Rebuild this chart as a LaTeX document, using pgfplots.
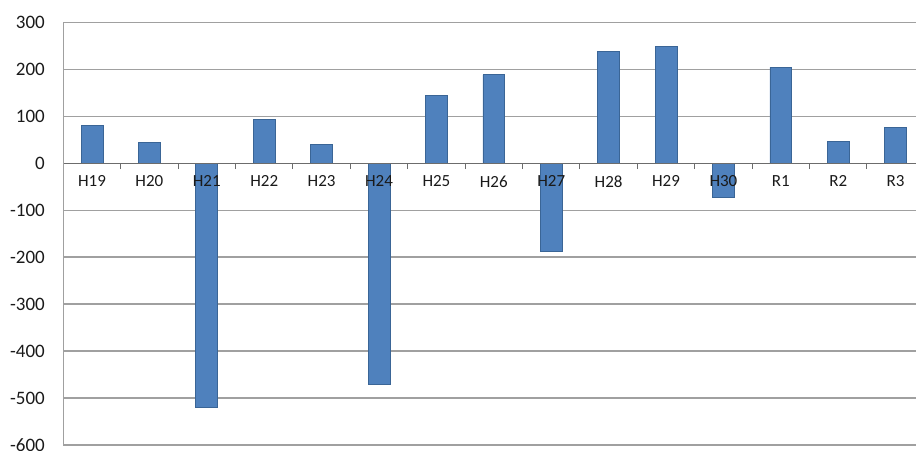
\documentclass[border=0pt]{standalone}
\usepackage{fontspec}
\setmainfont{Carlito}
\usepackage{pgfplots}
\pgfplotsset{compat=1.18}
\pgfplotsset{
  layers/mylayers/.define layer set={
    axis background,axis grid,main,axis ticks,axis lines,axis tick labels,axis descriptions,axis foreground
  }{/pgfplots/layers/standard},
}
\definecolor{barblue}{HTML}{4F81BD}
\definecolor{baredge}{HTML}{3A6596}
\definecolor{gridgray}{HTML}{A0A0A0}
\definecolor{txt}{HTML}{1A1A1A}
\begin{document}
\begin{tikzpicture}
\begin{axis}[
  set layers=mylayers,
  at={(0,0)}, anchor=south west,
  scale only axis,
  width=852.7pt, height=422.7pt,
  xmin=-0.5, xmax=14.355,
  ymin=-600, ymax=300,
  axis x line*=middle,
  axis y line*=left,
  x axis line style={draw=gray!85!black, line width=1.3pt},
  y axis line style={draw=gridgray, line width=1.3pt},
  xtick={0,...,14},
  xticklabels={H19,H20,H21,H22,H23,H24,H25,H26,H27,H28,H29,H30,R1,R2,R3},
  minor xtick={0.5,1.5,...,13.5},
  major x tick style={draw=none},
  minor x tick style={draw=gray!85!black, line width=1pt},
  minor tick length=6pt,
  tick align=outside,
  ytick={-600,-500,...,300},
  yticklabels={-600,-500,-400,-300,-200,-100,0,100,200,300},
  major y tick style={draw=none},
  ymajorgrids,
  major grid style={draw=gridgray, line width=1.3pt},
  xticklabel style={font=\fontsize{17}{20}\selectfont, text=txt, inner sep=0pt, anchor=north, yshift=-8pt},
  yticklabel style={font=\fontsize{19}{22}\selectfont, text=txt, inner sep=0pt, anchor=east, xshift=-14pt},
  clip=false,
]
\addplot[ybar, bar width=0.38, bar shift=0pt, fill=barblue, draw=baredge, line width=0.8pt]
  coordinates {(0,80) (1,44) (2,-520) (3,94) (4,40) (5,-472) (6,145) (7,188) (8,-188) (9,237) (10,249) (11,-73) (12,204) (13,46) (14,76)};
\end{axis}
\pgfresetboundingbox
\path[use as bounding box] (-63.3pt,-5pt) rectangle (852.7pt,445pt);
\end{tikzpicture}
\end{document}
